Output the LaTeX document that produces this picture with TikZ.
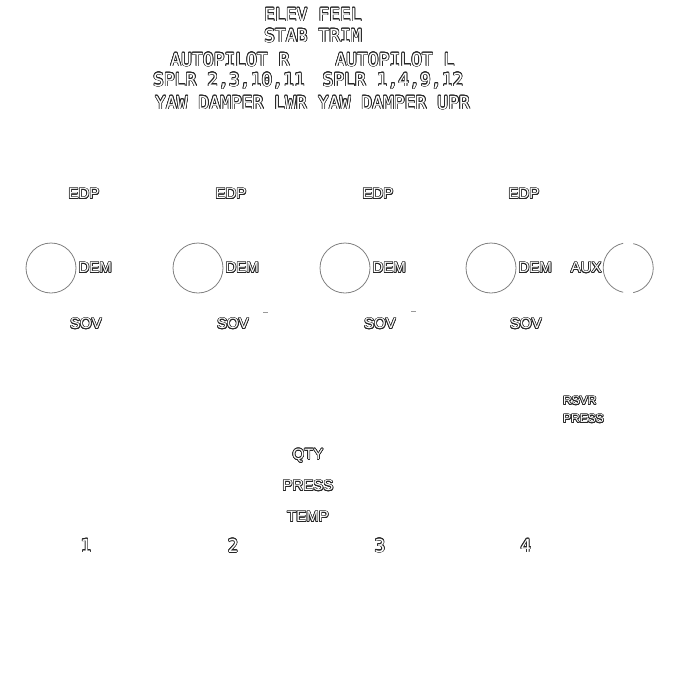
\documentclass[tikz,border=0pt]{standalone}
\usepackage{fontspec}
\usepackage{contour}
\usetikzlibrary{positioning}
\newfontfamily\panelmono{DejaVu Sans Mono}
\newfontfamily\panelsans{Liberation Sans}
\contourlength{0.65pt}
\contournumber{16}
\newcommand{\hollow}[1]{\contour{black!85}{\textcolor{white}{#1}}}

\begin{document}
\begin{tikzpicture}[x=1pt, y=-1pt,
    toptext/.style={font=\panelmono\fontsize{18}{18}\selectfont, inner sep=0pt},
    lbl/.style={font=\panelsans\fontsize{15}{15}\selectfont, inner sep=0pt},
    smalllbl/.style={font=\panelsans\fontsize{12}{12}\selectfont, inner sep=0pt},
    pump/.style={circle, draw=black!50, line width=0.8pt, minimum size=50pt, inner sep=0pt},
    pumpline/.style={draw=black!50, line width=0.8pt}]
    \useasboundingbox (0,0) rectangle (672,680);

    % systems block
    \node[toptext] (elev) at (313,15) {\hollow{ELEV FEEL}};
    \node[toptext] (stab) at (313,36) {\hollow{STAB TRIM}};
    \node[toptext] (apr) at (230,60) {\hollow{AUTOPILOT R}};
    \node[toptext] (apl) at (395,60) {\hollow{AUTOPILOT L}};
    \node[toptext] (splra) at (229,81) {\hollow{SPLR 2,3,10,11}};
    \node[toptext] (splrb) at (393,81) {\hollow{SPLR 1,4,9,12}};
    \node[toptext] (yawl) at (231,103) {\hollow{YAW DAMPER LWR}};
    \node[toptext] (yawu) at (394,103) {\hollow{YAW DAMPER UPR}};

    % pumps 1..4
    \foreach \i/\x in {1/51, 2/198, 3/345, 4/491} {
        \node[pump] (dem\i) at (\x,268) {};
        \node[lbl, right=2pt of dem\i] (deml\i) {\hollow{DEM}};
        \node[lbl] (edp\i) at (\x+33,194) {\hollow{EDP}};
        \node[lbl] (sov\i) at (\x+35,324) {\hollow{SOV}};
        \node[toptext] (sys\i) at (\x+35,546) {\hollow{\i}};
    }

    % aux pump (open circle)
    \node[circle, minimum size=50pt, inner sep=0pt] (aux) at (628,268) {};
    \draw[pumpline] (aux.101.5) arc[start angle=101.5, end angle=258.5, radius=25pt];
    \draw[pumpline] (aux.-78.5) arc[start angle=-78.5, end angle=78.5, radius=25pt];
    \node[lbl, left=1pt of aux] (auxl) {\hollow{AUX}};

    % small marks
    \draw[black!40, line width=0.6pt] (263,312) -- (268,312);
    \draw[black!40, line width=0.6pt] (411,311) -- (416,311);

    % reservoir and indications
    \node[smalllbl, anchor=west] (rsvr) at (563,401) {\hollow{RSVR}};
    \node[smalllbl, anchor=west] (rsvrp) at (563,419) {\hollow{PRESS}};
    \node[lbl] (qty) at (308,456) {\hollow{QTY}};
    \node[lbl] (press) at (308,486) {\hollow{PRESS}};
    \node[lbl] (temp) at (308,517) {\hollow{TEMP}};
\end{tikzpicture}
\end{document}
